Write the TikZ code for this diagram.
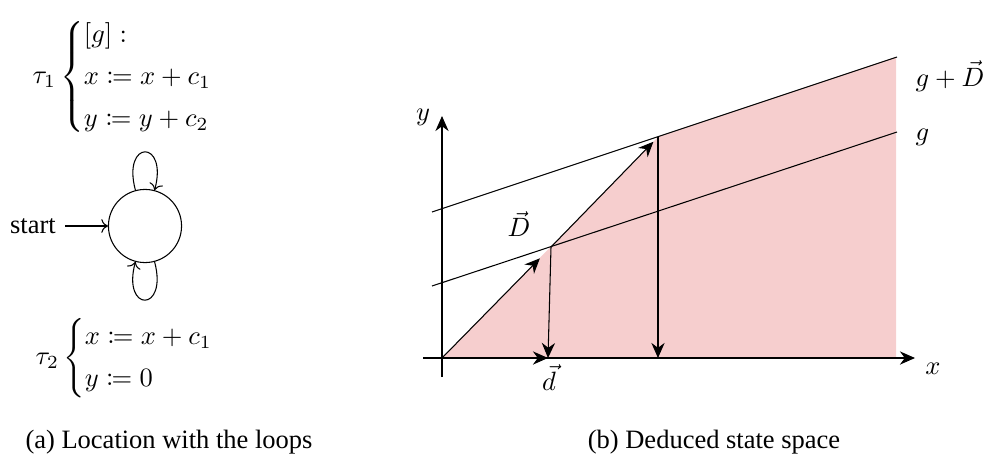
\documentclass[tikz,border=0pt]{standalone}
\usepackage{amsmath, amssymb, mathtools}
\usepackage{fontspec}
\setmainfont{Liberation Serif}
\usepackage{xcolor}
\usetikzlibrary{positioning, arrows.meta}
\definecolor{statefill}{RGB}{246,206,206}

\begin{document}
\begin{tikzpicture}[
  x=0.3774pt, y=0.3774pt,
  loc/.style={draw, circle, minimum size=27.6pt, inner sep=0pt},
  vec/.style={-{Stealth[length=5.7pt, width=5pt]}},
  lab/.style={inner sep=0pt},
  captext/.style={anchor=base, inner sep=0pt}
]
\useasboundingbox (0,0) rectangle (987,457);
% (a) the location and its two loops
\node[lab, anchor=west] (tau1) at (32,380)
  {$\tau_1 \begin{cases} [g]: \\[1.5pt] x \coloneqq x + c_1 \\[1.5pt] y \coloneqq y + c_2 \end{cases}$};
\node[loc] (l0) at (145,231) {};
\node (start) at (33,231) {start};
\node[lab, anchor=west] (tau2) at (35,99)
  {$\tau_2 \begin{cases} x \coloneqq x + c_1 \\[1.5pt] y \coloneqq 0 \end{cases}$};
\draw[->] (start) -- (l0);
\path[->] (l0) edge[loop above, min distance=7mm] (l0)
               edge[loop below, min distance=7mm] (l0);
% (b) points of the state space
\coordinate (O) at (442,99);
\coordinate (P1) at (551,210);
\coordinate (P2) at (658,320);
\coordinate (dT) at (548,99);
\coordinate (dP2) at (658,99);
% shaded region
\fill[statefill] (O) -- (P2) -- (896,400) -- (896,99) -- cycle;
% guard lines
\coordinate (gL) at (432,171);
\coordinate (gR) at (897,325);
\coordinate (gDL) at (432,245);
\coordinate (gDR) at (897,400);
\draw (gL) -- (gR);
\draw (gDL) -- (gDR);
% axes
\coordinate (yb) at (442,80);
\coordinate (yt) at (442,341);
\coordinate (xl) at (423,99);
\coordinate (xr) at (915,99);
\draw[vec] (yb) -- (yt);
\draw[vec] (xl) -- (xr);
\node (ylab) at (423,340) {$y$};
\node (xlab) at (933,88) {$x$};
\node[lab, anchor=west] (gDlab) at (915,381) {$g + \vec{D}$};
\node[lab, anchor=west] (glab) at (915,320) {$g$};
% the vectors
\draw[vec, shorten >=6pt] (O) -- (P1);
\draw[vec, shorten >=2.5pt] (P1) -- (P2);
\draw[vec] (O) -- (dT);
\draw[vec] (P1) -- (dT);
\draw[vec] (P2) -- (dP2);
\node (Dlab) at (519,233) {$\vec{D}$};
\node (dlab) at (549,79) {$\vec{d}$};
% captions
\node[captext] (capa) at (169,9) {(a) Location with the loops};
\node[captext] (capb) at (714,9) {(b) Deduced state space};
\end{tikzpicture}
\end{document}
